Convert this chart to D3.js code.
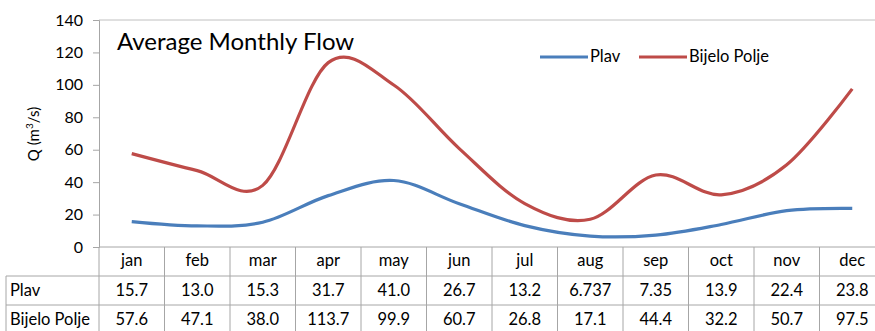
<!DOCTYPE html>
<html><head><meta charset="utf-8">
<script src="https://cdn.jsdelivr.net/npm/d3@7"></script>
<style>
body{margin:0;background:#fff;}
svg{display:block;font-family:Lato,"Open Sans",sans-serif;}
</style></head><body>
<svg id="c" width="875" height="331"></svg>
<script>
const months = ["jan","feb","mar","apr","may","jun","jul","aug","sep","oct","nov","dec"];
const plav = [15.7,13.0,15.3,31.7,41.0,26.7,13.2,6.737,7.35,13.9,22.4,23.8];
const bijelo = [57.6,47.1,38.0,113.7,99.9,60.7,26.8,17.1,44.4,32.2,50.7,97.5];
const plavLabels = ["15.7","13.0","15.3","31.7","41.0","26.7","13.2","6.737","7.35","13.9","22.4","23.8"];
const bijeloLabels = ["57.6","47.1","38.0","113.7","99.9","60.7","26.8","17.1","44.4","32.2","50.7","97.5"];
const yTicks = [0,20,40,60,80,100,120,140];
const seriesNames = ["Plav","Bijelo Polje"];
const colors = ["#4a7ebb","#be4b48"];

const svg = d3.select("#c");
const L = 99, R = 885, T = 20, B = 247;
const x = d3.scaleBand().domain(months).range([L, R]);
const y = d3.scaleLinear().domain([0,140]).range([B, T]);
const grid = "#a6a6a6";

// plot border top
svg.append("line").attr("x1",L).attr("x2",R).attr("y1",T).attr("y2",T).attr("stroke","#c0c0c0");

// y axis
const ya = svg.append("g").attr("transform",`translate(${L},0)`)
  .call(d3.axisLeft(y).tickValues(yTicks).tickSize(6).tickPadding(10));
ya.select(".domain").attr("stroke",grid);
ya.selectAll(".tick line").attr("stroke",grid);
ya.selectAll(".tick text").attr("fill","#000").style("font-size","16px").style("font-family","Lato");

svg.append("text").attr("transform","translate(39,134) rotate(-90)")
  .attr("text-anchor","middle").style("font-size","15px").attr("fill","#000")
  .html('Q (m<tspan dy="-6" font-size="10">3</tspan><tspan dy="6">/s)</tspan>');

// title
svg.append("text").attr("x",117).attr("y",50).text("Average Monthly Flow")
  .style("font-size","24px").attr("fill","#000");

// lines
const line = d3.line().x((d,i)=>x(months[i])+x.bandwidth()/2).y(d=>y(d)).curve(d3.curveCatmullRom.alpha(0));
[plav, bijelo].forEach((s,i)=>{
  svg.append("path").attr("d",line(s)).attr("fill","none").attr("stroke",colors[i]).attr("stroke-width",3.2);
});

// legend
const leg = [{x1:540,x2:588,tx:590},{x1:639,x2:687,tx:689}];
leg.forEach((l,i)=>{
  svg.append("line").attr("x1",l.x1).attr("x2",l.x2).attr("y1",57).attr("y2",57)
    .attr("stroke",colors[i]).attr("stroke-width",3.2);
  svg.append("text").attr("x",l.tx).attr("y",62).text(seriesNames[i]).style("font-size","16.5px").attr("fill","#000");
});

// table
const TL = 6, TB = 334;
const rows = [276, 305, TB];
svg.append("line").attr("x1",L).attr("x2",R).attr("y1",B).attr("y2",B).attr("stroke",grid);
rows.forEach(r=>svg.append("line").attr("x1",TL).attr("x2",R).attr("y1",r).attr("y2",r).attr("stroke",grid));
svg.append("line").attr("x1",TL).attr("x2",TL).attr("y1",276).attr("y2",TB).attr("stroke",grid);
months.forEach(m=>{
  svg.append("line").attr("x1",x(m)).attr("x2",x(m)).attr("y1",B).attr("y2",TB).attr("stroke",grid);
});
svg.append("line").attr("x1",R).attr("x2",R).attr("y1",B).attr("y2",TB).attr("stroke",grid);

const fs = "16.5px";
months.forEach((m,i)=>{
  const cx = x(m)+x.bandwidth()/2;
  svg.append("text").attr("x",cx).attr("y",266).attr("text-anchor","middle").text(m).style("font-size",fs);
  svg.append("text").attr("x",cx).attr("y",296).attr("text-anchor","middle").text(plavLabels[i]).style("font-size",fs);
  svg.append("text").attr("x",cx).attr("y",325).attr("text-anchor","middle").text(bijeloLabels[i]).style("font-size",fs);
});
svg.append("text").attr("x",10).attr("y",296).text(seriesNames[0]).style("font-size",fs);
svg.append("text").attr("x",10).attr("y",325).text(seriesNames[1]).style("font-size",fs);
</script>
</body></html>
